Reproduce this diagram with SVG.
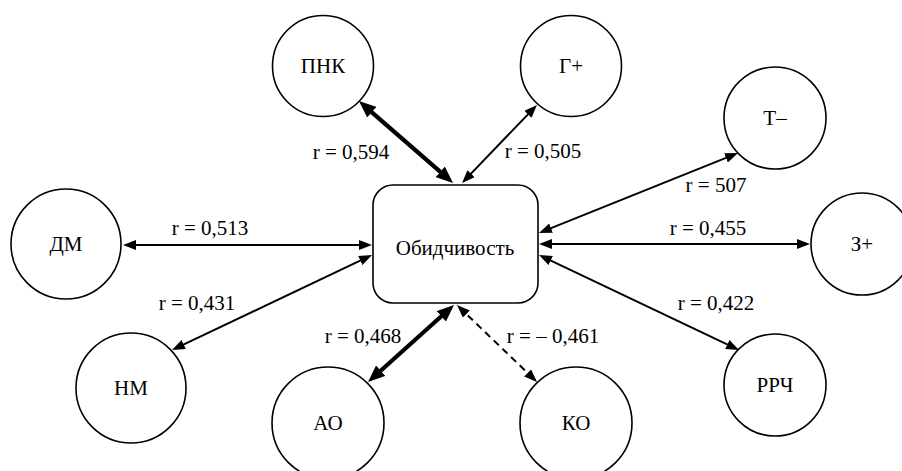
<svg xmlns="http://www.w3.org/2000/svg" width="902" height="471" viewBox="0 0 902 471">
<style>
  .node { fill: #fff; stroke: #000; stroke-width: 1.6; }
  text { font-family: 'Liberation Serif', 'Times New Roman', 'DejaVu Serif', serif; font-size: 21px; fill: #000; text-anchor: middle; }
  .thin { stroke: #000; stroke-width: 2; fill: none; marker-start: url(#aThin); marker-end: url(#aThin); }
  .thick { stroke: #000; stroke-width: 4.2; fill: none; marker-start: url(#aThick); marker-end: url(#aThick); }
  .dash { stroke-dasharray: 7 5; }
</style>
<defs>
  <marker id="aThin" markerUnits="userSpaceOnUse" markerWidth="13" markerHeight="10" refX="8" refY="5" orient="auto-start-reverse" viewBox="0 0 13 10">
    <path d="M0,0 L13,5 L0,10 z" fill="#000"/>
  </marker>
  <marker id="aThick" markerUnits="userSpaceOnUse" markerWidth="17" markerHeight="14" refX="9" refY="7" orient="auto-start-reverse" viewBox="0 0 17 14">
    <path d="M0,0 L17,7 L0,14 z" fill="#000"/>
  </marker>
</defs>
<rect width="902" height="471" fill="#fff"/>

<g id="connectors">
  <line class="thick" x1="365" y1="106.3" x2="447" y2="177.7"/>
  <line class="thin" x1="533.5" y1="108.6" x2="465.5" y2="179.4"/>
  <line class="thin" x1="733.4" y1="154.9" x2="543.6" y2="231.1"/>
  <line class="thin" x1="805" y1="244" x2="544" y2="244"/>
  <line class="thin" x1="734.5" y1="347.9" x2="543.5" y2="257.1"/>
  <line class="thin dash" x1="533.4" y1="378.5" x2="460.6" y2="308.5"/>
  <line class="thick" x1="374" y1="376.7" x2="448" y2="310.3"/>
  <line class="thin" x1="176.5" y1="347.9" x2="367.5" y2="257.1"/>
  <line class="thin" x1="128" y1="245" x2="367" y2="245"/>
</g>

<g id="labels" font-family="Liberation Serif, Times New Roman, DejaVu Serif, serif">
  <text x="351" y="159">r = 0,594</text>
  <text x="543" y="158">r = 0,505</text>
  <text x="716" y="192">r = 507</text>
  <text x="708" y="235">r = 0,455</text>
  <text x="716" y="310">r = 0,422</text>
  <text x="553" y="343">r = – 0,461</text>
  <text x="363" y="343">r = 0,468</text>
  <text x="197" y="310">r = 0,431</text>
  <text x="210" y="235">r = 0,513</text>
</g>

<g id="center">
  <rect class="node" x="373" y="185" width="165" height="118" rx="20" ry="20"/>
  <text x="455" y="255">Обидчивость</text>
</g>
<g id="pnk">
  <circle class="node" cx="323" cy="66" r="50.5"/>
  <text x="323" y="73">ПНК</text>
</g>
<g id="gplus">
  <circle class="node" cx="571" cy="66" r="50.5"/>
  <text x="571" y="73">Г+</text>
</g>
<g id="tminus">
  <circle class="node" cx="775" cy="118" r="51"/>
  <text x="775" y="125">Т–</text>
</g>
<g id="zplus">
  <circle class="node" cx="862" cy="244" r="51"/>
  <text x="862" y="251">З+</text>
</g>
<g id="rrch">
  <circle class="node" cx="775" cy="385" r="51"/>
  <text x="775" y="392">РРЧ</text>
</g>
<g id="ko">
  <circle class="node" cx="576" cy="423" r="56"/>
  <text x="576" y="430">КО</text>
</g>
<g id="ao">
  <circle class="node" cx="328" cy="423" r="56"/>
  <text x="328" y="430">АО</text>
</g>
<g id="nm">
  <circle class="node" cx="131" cy="388" r="55"/>
  <text x="131" y="395">НМ</text>
</g>
<g id="dm">
  <circle class="node" cx="66" cy="244" r="55"/>
  <text x="66" y="251">ДМ</text>
</g>
</svg>
